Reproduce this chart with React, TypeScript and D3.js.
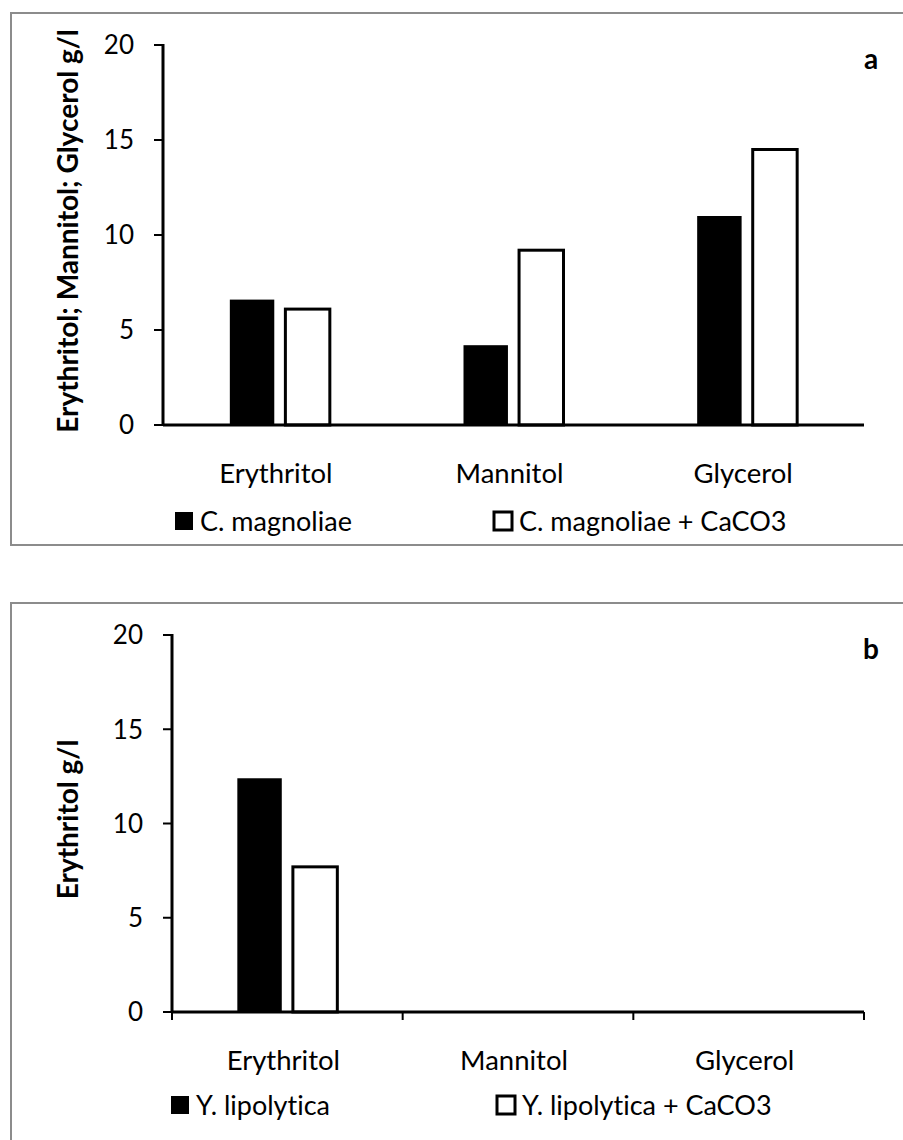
import React from 'react';
import * as d3 from 'd3';

// values
const categories = ['Erythritol', 'Mannitol', 'Glycerol'];
const magnoliae = [6.6, 4.2, 11.0];
const magnoliaeCaCO3 = [6.1, 9.2, 14.5];
const lipolytica = [12.4, 0, 0];
const lipolyticaCaCO3 = [7.7, 0, 0];
const yTicks = [0, 5, 10, 15, 20];

const FONT = 'Lato, "Open Sans", sans-serif';

type PanelProps = {
  top: number;
  bottom: number;
  left: number;
  y0: number;
  y20: number;
  letter: string;
  yTitle: string;
  names: string[];
  series: number[][];
  xTicks: boolean;
  legendX: number[];
  legendY: number;
  labelY: number;
  borderBottom: boolean;
};

const Panel = (p: PanelProps) => {
  const right = 864;
  const x = d3.scaleBand<string>().domain(categories).range([p.left, right]);
  const y = d3.scaleLinear().domain([0, 20]).range([p.y0, p.y20]);
  const keys = p.names;
  const bw = x.bandwidth();
  const x1 = d3.scaleBand<string>().domain(keys)
    .range([bw / 2 - 50, bw / 2 + 50]).paddingInner(0.2);

  return (
    <g>
      {/* frame */}
      <path
        d={p.borderBottom
          ? `M903,${p.top}H11V${p.bottom}H903`
          : `M903,${p.top}H11V1140`}
        fill="none" stroke="#8c8c8c" strokeWidth={2} />

      {/* bars */}
      {p.series.map((vals, si) => (
        <g key={si}>
          {categories.map((c, i) => vals[i] > 0 && (
            <rect key={c}
              x={(x(c) as number) + (x1(keys[si]) as number)}
              y={y(vals[i])}
              width={x1.bandwidth()}
              height={y(0) - y(vals[i])}
              fill={si === 0 ? '#000' : '#fff'}
              stroke="#000"
              strokeWidth={si === 0 ? 0 : 3} />
          ))}
        </g>
      ))}

      {/* y axis */}
      <line x1={p.left} x2={p.left} y1={y(20) - 1} y2={y(0)} stroke="#000" strokeWidth={3} />
      {yTicks.map(t => (
        <g key={t}>
          <line x1={p.left - 9} x2={p.left} y1={y(t)} y2={y(t)} stroke="#000" strokeWidth={2} />
          <text x={p.left - 29} y={y(t)} dy="0.36em" textAnchor="end"
            fontFamily={FONT} fontSize={26}>{t}</text>
        </g>
      ))}

      {/* x axis */}
      <line x1={p.left} x2={right} y1={y(0)} y2={y(0)} stroke="#000" strokeWidth={3} />
      {p.xTicks && [p.left, ...categories.map(c => (x(c) as number) + bw)].map((tx, i) => (
        <line key={i} x1={tx} x2={tx} y1={y(0)} y2={y(0) + 8} stroke="#000" strokeWidth={2} />
      ))}
      {categories.map(c => (
        <text key={c} x={(x(c) as number) + bw / 2 - 4} y={p.labelY} dy="0.36em"
          textAnchor="middle" fontFamily={FONT} fontSize={27.5}>{c}</text>
      ))}

      {/* panel letter */}
      <text x={871} y={p.y20 + 14} dy="0.36em" textAnchor="middle"
        fontFamily={FONT} fontSize={28} fontWeight="bold">{p.letter}</text>

      {/* y title */}
      <text transform={`translate(68,${(y(0) + y(20)) / 2 - 4}) rotate(-90)`}
        textAnchor="middle" dy="0.36em" fontFamily={FONT} fontSize={28}
        fontWeight="bold">{p.yTitle}</text>

      {/* legend */}
      {keys.map((k, i) => (
        <g key={k}>
          <rect x={p.legendX[i]} y={p.legendY - 9} width={18} height={18}
            fill={i === 0 ? '#000' : '#fff'} stroke="#000" strokeWidth={i === 0 ? 0 : 3} />
          <text x={p.legendX[i] + 25} y={p.legendY} dy="0.36em"
            fontFamily={FONT} fontSize={27}>{k}</text>
        </g>
      ))}
    </g>
  );
};

export default function App() {
  return (
    <svg width={903} height={1140}
      style={{ position: 'absolute', left: 0, top: 0, background: '#fff',
        fontVariantLigatures: 'none', fontFeatureSettings: '"liga" 0, "dlig" 0' }}>
      <Panel
        top={13} bottom={545} left={163} y0={425} y20={45}
        letter="a" yTitle="Erythritol; Mannitol; Glycerol g/l"
        names={['C. magnoliae', 'C. magnoliae + CaCO3']}
        series={[magnoliae, magnoliaeCaCO3]}
        xTicks={false}
        legendX={[175, 494]} legendY={521} labelY={473}
        borderBottom={true} />
      <Panel
        top={603} bottom={1140} left={172} y0={1012} y20={635}
        letter="b" yTitle="Erythritol g/l"
        names={['Y. lipolytica', 'Y. lipolytica + CaCO3']}
        series={[lipolytica, lipolyticaCaCO3]}
        xTicks={true}
        legendX={[171, 497]} legendY={1105} labelY={1060}
        borderBottom={false} />
    </svg>
  );
}
